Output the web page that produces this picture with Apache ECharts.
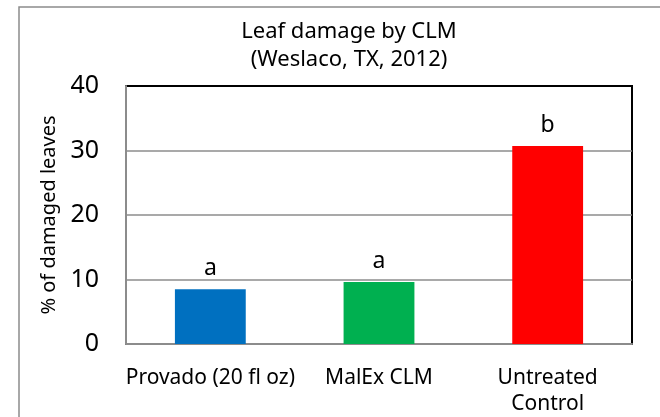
<!DOCTYPE html>
<html>
<head>
<meta charset="utf-8">
<script src="https://cdn.jsdelivr.net/npm/echarts@6/dist/echarts.min.js"></script>
<style>
    html, body { margin: 0; padding: 0; background: #fff; }
    #chart { width: 660px; height: 417px; }
</style>
</head>
<body>
<div id="chart"></div>
<script>
var categories = ['Provado (20 fl oz)', 'MalEx CLM', 'Untreated\nControl'];
var damage = [8.5, 9.6, 30.7];
var letters = ['a', 'a', 'b'];
var barColors = ['#0070c0', '#00b050', '#ff0000'];
var yTicks = [0, 10, 20, 30, 40];

var font = 'Noto Sans';

var renderChart = function (id) {
    var myChart = echarts.init(document.getElementById(id));
    var seriesData = [];
    for (var i = 0; i < damage.length; i++) {
        seriesData.push({
            value: damage[i],
            itemStyle: { color: barColors[i] },
            label: { formatter: letters[i] }
        });
    }
    var option = {
        animation: false,
        textStyle: { fontFamily: font, color: '#000' },
        title: {
            text: 'Leaf damage by CLM\n(Weslaco, TX, 2012)',
            left: 344,
            top: 13,
            textAlign: 'center',
            textStyle: {
                fontFamily: font,
                fontSize: 22,
                fontWeight: 'normal',
                color: '#000',
                lineHeight: 28
            }
        },
        graphic: [{
            type: 'rect',
            shape: { x: 19, y: 7, width: 700, height: 500 },
            style: { fill: 'none', stroke: '#8c8c8c', lineWidth: 1.5 },
            silent: true
        }],
        grid: {
            left: 126,
            right: 28,
            top: 86,
            bottom: 73,
            show: true,
            borderColor: '#000',
            borderWidth: 2
        },
        xAxis: {
            type: 'category',
            data: categories,
            axisTick: { show: false },
            axisLine: { lineStyle: { color: '#8c8c8c', width: 2 } },
            axisLabel: {
                color: '#000',
                fontFamily: font,
                fontSize: 21,
                lineHeight: 26,
                margin: 21,
                interval: 0
            }
        },
        yAxis: {
            type: 'value',
            min: yTicks[0],
            max: yTicks[yTicks.length - 1],
            interval: 10,
            name: '% of damaged leaves',
            nameLocation: 'middle',
            nameGap: 61,
            nameRotate: 90,
            nameTextStyle: { fontFamily: font, fontSize: 20, color: '#000' },
            axisLine: { show: true, lineStyle: { color: '#8c8c8c', width: 2 } },
            axisTick: { show: false },
            axisLabel: { color: '#000', fontFamily: font, fontSize: 25, margin: 27 },
            splitLine: { showMaxLine: false, lineStyle: { color: '#8c8c8c', width: 1.5 } }
        },
        series: [{
            type: 'bar',
            barWidth: '42%',
            data: seriesData,
            label: {
                show: true,
                position: 'top',
                distance: 9,
                fontFamily: font,
                fontSize: 23,
                color: '#000'
            }
        }]
    };
    myChart.setOption(option);
    return myChart;
};

renderChart('chart');
</script>
</body>
</html>
